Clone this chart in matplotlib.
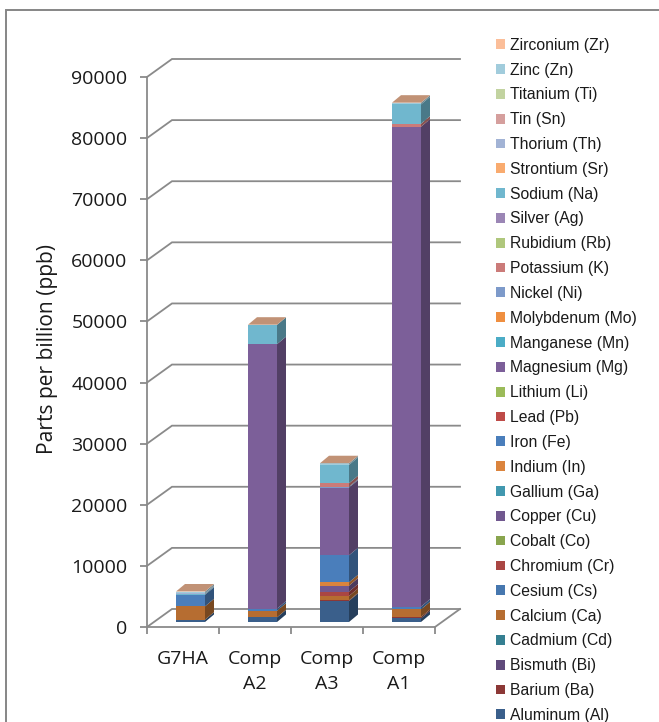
import numpy as np
import matplotlib
matplotlib.use('Agg')
import matplotlib.pyplot as plt
from matplotlib.patches import Patch, Rectangle
from matplotlib.colors import to_rgb

# Stacking order, bottom to top
elements = ['Aluminum (Al)', 'Barium (Ba)', 'Bismuth (Bi)', 'Cadmium (Cd)', 'Calcium (Ca)',
            'Cesium (Cs)', 'Chromium (Cr)', 'Cobalt (Co)', 'Copper (Cu)', 'Gallium (Ga)',
            'Indium (In)', 'Iron (Fe)', 'Lead (Pb)', 'Lithium (Li)', 'Magnesium (Mg)',
            'Manganese (Mn)', 'Molybdenum (Mo)', 'Nickel (Ni)', 'Potassium (K)', 'Rubidium (Rb)',
            'Silver (Ag)', 'Sodium (Na)', 'Strontium (Sr)', 'Thorium (Th)', 'Tin (Sn)',
            'Titanium (Ti)', 'Zinc (Zn)', 'Zirconium (Zr)']
colors = ['#3A5F8B', '#8C3836', '#604A7B', '#357F91', '#B66D31',
          '#4677AF', '#AA4643', '#89A54E', '#71588F', '#4198AF',
          '#DB843D', '#4A7EBB', '#BE4B48', '#9BBB59', '#7C5F99',
          '#4BACC6', '#EF8F40', '#7D9ACA', '#CB7B79', '#AFC77C',
          '#9B86B5', '#70B7CE', '#F9AB6F', '#A2B3D5', '#D59F9D',
          '#C2D3A0', '#A1CCDC', '#FBBE99']

samples = ['G7HA', 'Comp\nA2', 'Comp\nA3', 'Comp\nA1']

# ppb per element, same order as elements
g7ha    = [380, 0, 0, 0, 2180, 0, 0, 0, 0, 0, 0, 1900, 0, 0, 0, 0, 0, 0, 0, 0, 0, 150, 0, 100, 0, 0, 250, 30]
comp_a2 = [760, 0, 0, 0, 1090, 0, 0, 0, 0, 0, 0, 330, 0, 0, 43280, 0, 0, 0, 0, 0, 0, 3160, 0, 0, 0, 0, 0, 30]
comp_a3 = [3440, 100, 0, 0, 720, 0, 710, 0, 980, 0, 545, 4420, 0, 0, 11080, 0, 0, 160, 545, 0, 0, 3000, 0, 0, 0, 0, 250, 30]
comp_a1 = [600, 220, 0, 0, 1250, 0, 0, 0, 0, 0, 0, 440, 0, 0, 78540, 0, 0, 0, 490, 0, 0, 3160, 0, 0, 0, 0, 250, 30]

yticks = np.arange(0, 90001, 10000)

W, H = 659, 722
fig = plt.figure(figsize=(W / 100, H / 100), dpi=100)
fig.add_artist(Rectangle((6 / W, -0.01), 1.2, 1.01 - 10 / H, transform=fig.transFigure,
                         fill=False, ec='#868686', lw=1.4))

# axes is the front plane of the fake 3D box
ax = fig.add_axes([147 / W, 1 - 627 / H, 288 / W, 550 / H])
ax.set_xlim(0, 4)
ax.set_ylim(0, 90000)
ax.patch.set_alpha(0)

px_x = 4 / 288
px_y = 90000 / 550
wall_dx, wall_dy = 25 * px_x, 18 * px_y
bar_dx, bar_dy = 9 * px_x, 7.5 * px_y
bar_w = 29 * px_x
base = 5 * px_y

grid = '#8A8A8A'
for v in yticks:
    ax.plot([0, wall_dx, 4 + wall_dx], [v, v + wall_dy, v + wall_dy], color=grid, lw=1.3,
            clip_on=False, zorder=1, solid_joinstyle='miter')
ax.plot([4, 4 + wall_dx], [0, wall_dy], color=grid, lw=1.3, clip_on=False, zorder=1)

for s in ['top', 'right']:
    ax.spines[s].set_visible(False)
for s in ['left', 'bottom']:
    ax.spines[s].set_color(grid)
    ax.spines[s].set_linewidth(1.3)

ax.set_yticks(yticks)
ax.set_xticks(range(5))
ax.set_xticklabels([])
ax.set_xticks(np.arange(len(samples)) + 0.5, samples, minor=True)
ax.tick_params(axis='both', which='major', length=5, width=1.3, color=grid)
ax.tick_params(axis='y', labelsize=14, pad=9, labelcolor='#1a1a1a')
ax.tick_params(axis='x', which='minor', length=0, labelsize=14, pad=16.5, labelcolor='#1a1a1a')
for lab in ax.get_yticklabels() + ax.get_xminorticklabels():
    lab.set_family('Open Sans')
for lab in ax.get_xminorticklabels():
    lab.set_linespacing(1.5)
ax.set_ylabel('Parts per billion (ppb)', family='Open Sans', fontsize=15.1, color='#1a1a1a')
ax.yaxis.set_label_coords((58 - 147) / 288, 0.505)


def shade(c, f):
    return tuple(np.array(to_rgb(c)) * f)


table = np.array([g7ha, comp_a2, comp_a3, comp_a1], dtype=float)
for i in range(len(samples)):
    x0 = i + 29 * px_x
    bottom = base
    for j, c in enumerate(colors):
        v = table[i, j]
        if v == 0:
            continue
        ax.bar(x0, v, bottom=bottom, width=bar_w, align='edge', color=c, lw=0, clip_on=False, zorder=3)
        # side face
        ax.fill([x0 + bar_w, x0 + bar_w + bar_dx, x0 + bar_w + bar_dx, x0 + bar_w],
                [bottom, bottom + bar_dy, bottom + v + bar_dy, bottom + v],
                color=shade(c, 0.66), lw=0, clip_on=False, zorder=3)
        bottom += v
    # top face takes the last series colour
    ax.fill([x0, x0 + bar_dx, x0 + bar_w + bar_dx, x0 + bar_w],
            [bottom, bottom + bar_dy, bottom + bar_dy, bottom],
            color=shade(colors[-1], 0.77), lw=0, clip_on=False, zorder=3)

handles = [Patch(color=c, lw=0, label=e) for c, e in zip(colors, elements)][::-1]
leg = fig.legend(handles=handles, loc='upper left', bbox_to_anchor=(491 / W, 1 - 33 / H),
                 frameon=False, prop={'family': 'Liberation Sans', 'size': 11.35},
                 handlelength=0.58, handleheight=0.58, handletextpad=0.35,
                 labelspacing=0.623, borderpad=0.3, borderaxespad=0, labelcolor='#1a1a1a')

fig.savefig('out.png', dpi=100)
